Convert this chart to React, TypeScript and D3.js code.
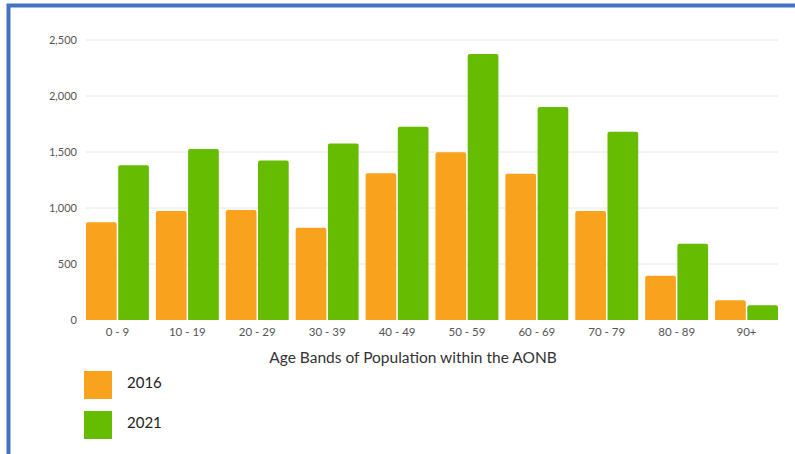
import React from "react";
import * as d3 from "d3";

const ageBands = ["0 - 9", "10 - 19", "20 - 29", "30 - 39", "40 - 49", "50 - 59", "60 - 69", "70 - 79", "80 - 89", "90+"];
const pop2016 = [872, 973, 982, 824, 1310, 1497, 1306, 973, 396, 176];
const pop2021 = [1381, 1527, 1423, 1577, 1726, 2375, 1902, 1681, 681, 131];
const yTicks = [0, 500, 1000, 1500, 2000, 2500];
const seriesNames = ["2016", "2021"];
const seriesColors = ["#F9A21E", "#66BC00"];
const xTitle = "Age Bands of Population within the AONB";

const W = 795;
const H = 454;
const FONT = "Lato, 'Open Sans', sans-serif";

export default function App() {
  const x = d3.scaleBand<string>().domain(ageBands).range([86, 778]).paddingInner(0.1).paddingOuter(0);
  const y = d3.scaleLinear().domain([0, 2500]).range([320, 40]);
  const bw = x.bandwidth();
  const half = bw / 2;
  const fmt = d3.format(",");
  const series = [pop2016, pop2021];

  const barPath = (x0: number, w: number, y0: number, y1: number, r: number) => {
    const rr = Math.min(r, (y1 - y0) / 2, w / 2);
    return `M${x0},${y1}V${y0 + rr}Q${x0},${y0} ${x0 + rr},${y0}H${x0 + w - rr}Q${x0 + w},${y0} ${x0 + w},${y0 + rr}V${y1}Z`;
  };

  return (
    <svg width={W} height={H} style={{ position: "absolute", left: 0, top: 0, background: "#fff" }}>
      <rect x={0} y={0} width={W} height={H} fill="#fff" />
      {/* frame */}
      <rect x={8.5} y={5.5} width={W + 20} height={H + 20} fill="none" stroke="#4472C4" strokeWidth={4} />

      {/* grid */}
      {yTicks.filter((t) => t > 0).map((t) => (
        <line key={t} x1={86} x2={778} y1={y(t)} y2={y(t)} stroke="#e8e8e8" strokeWidth={1} />
      ))}
      {yTicks.map((t) => (
        <text key={"l" + t} x={77} y={y(t)} dy="0.35em" textAnchor="end" fontFamily={FONT} fontSize={11} fill="#555">
          {fmt(t)}
        </text>
      ))}

      {/* bars */}
      {ageBands.map((band, i) => (
        <g key={band}>
          {series.map((vals, s) => {
            const x0 = (x(band) as number) + s * (half + 0.75);
            const w = half - 0.75;
            return (
              <path key={s} d={barPath(x0, w, y(vals[i]), y(0), 2)} fill={seriesColors[s]} />
            );
          })}
          <text x={(x(band) as number) + bw / 2} y={332} dy="0.35em" textAnchor="middle" fontFamily={FONT} fontSize={11.5} fill="#555">
            {band}
          </text>
        </g>
      ))}

      <text x={413} y={358} dy="0.35em" textAnchor="middle" fontFamily={FONT} fontSize={15.5} fill="#333">
        {xTitle}
      </text>

      {/* legend */}
      {seriesNames.map((name, s) => (
        <g key={name} transform={`translate(84, ${371 + s * 40})`}>
          <rect x={0} y={0} width={28} height={28} fill={seriesColors[s]} />
          <text x={43} y={12} dy="0.35em" fontFamily={FONT} fontSize={15} fill="#222">
            {name}
          </text>
        </g>
      ))}
    </svg>
  );
}
